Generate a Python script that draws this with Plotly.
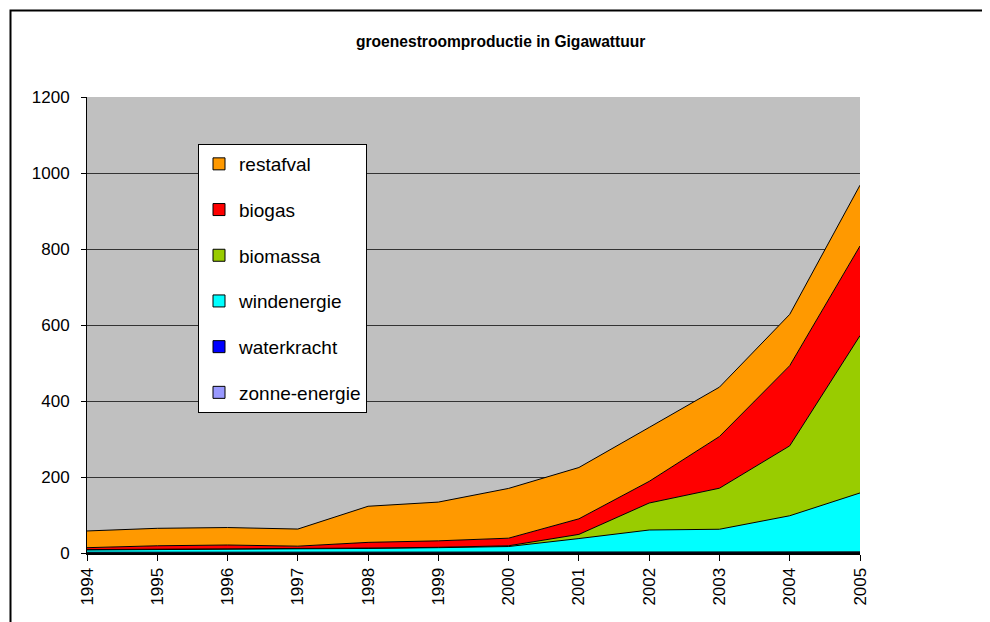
import plotly.graph_objects as go

years = list(range(1994, 2006))
zonne_energie = [0, 0, 0, 0, 0, 0, 0, 0, 0.5, 0.5, 1, 1]
waterkracht = [2, 2, 2, 2, 2, 2, 2, 2, 2, 2, 2, 2]
windenergie = [6, 7, 7, 8, 10, 12, 15, 36, 58, 60, 95, 155]
biomassa = [1, 1, 1, 1, 1, 1, 2, 11, 71, 108, 184, 414]
biogas = [5, 9, 11, 7, 15, 17, 20, 41, 57, 136, 211, 236]
restafval = [44, 46, 46, 45, 95, 102, 131, 135, 142, 130, 135, 160]

series = [
    ("zonne-energie", zonne_energie, "#9999FF"),
    ("waterkracht", waterkracht, "#0000FF"),
    ("windenergie", windenergie, "#00FFFF"),
    ("biomassa", biomassa, "#99CC00"),
    ("biogas", biogas, "#FF0000"),
    ("restafval", restafval, "#FF9900"),
]

FONT = "Liberation Sans, Arial, sans-serif"
fig = go.Figure()
for name, vals, col in series:
    fig.add_trace(go.Scatter(
        x=years, y=vals, name=name, stackgroup="one", mode="lines",
        line=dict(color="black", width=1), fillcolor=col, showlegend=False,
        hoverinfo="x+y+name"))

n = len(series)
for i, (name, vals, col) in enumerate(series):
    fig.add_trace(go.Bar(
        x=[None], y=[None], name=name, marker=dict(color=col, line=dict(color="black", width=1)),
        showlegend=True, legendgroup=name, legendrank=n - i))

# page body has an 8px margin; work in page pixel coordinates
OFF = 8
L, R, T, B = 87 - OFF, 860 - OFF, 97 - OFF, 553 - OFF
W, H = 990 - OFF, 622 - OFF
pw, ph = R - L, B - T

def px(x):
    return (x - OFF - L) / pw

def py(y):
    return (B - (y - OFF)) / ph

fig.update_layout(
    width=W, height=H,
    margin=dict(l=L, r=W - R, t=T, b=H - B, pad=0),
    paper_bgcolor="white", plot_bgcolor="#C0C0C0",
    font=dict(family=FONT, size=17, color="black"),
    showlegend=True,
    legend=dict(x=px(198), y=py(144), xanchor="left", yanchor="top",
                bgcolor="white", bordercolor="black", borderwidth=1,
                font=dict(family=FONT, size=19, color="black"),
                tracegroupgap=18, traceorder="grouped"),
    xaxis=dict(range=[1994, 2005], tickvals=years, ticktext=[str(y) for y in years],
               tickangle=-90, ticks="outside", ticklen=6, tickcolor="black",
               showgrid=False, zeroline=False, showline=True, linecolor="black", linewidth=2,
               tickfont=dict(family=FONT, size=17)),
    yaxis=dict(range=[0, 1200], tickvals=list(range(0, 1201, 200)),
               ticks="outside", ticklen=5, tickcolor="black", ticklabelstandoff=8,
               showgrid=True, gridcolor="#333333", gridwidth=1, zeroline=False,
               showline=True, linecolor="black", linewidth=1,
               tickfont=dict(family=FONT, size=17)),
    annotations=[dict(text="<b>groenestroomproductie in Gigawattuur</b>", xref="paper", yref="paper",
                      x=px(500), y=py(42), xanchor="center", yanchor="middle", showarrow=False,
                      font=dict(family=FONT, size=15.6, color="black"))],
    shapes=[dict(type="rect", xref="paper", yref="paper",
                 x0=px(10.5), y0=py(700), x1=px(1100), y1=py(10.5),
                 line=dict(color="black", width=2), layer="below")],
)

fig.write_html("out.html")
